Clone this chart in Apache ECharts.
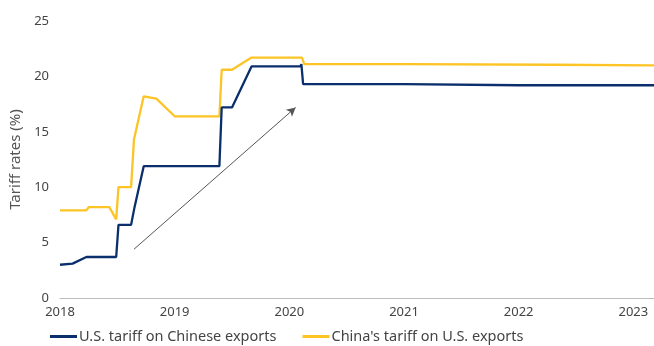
<!DOCTYPE html>
<html>
<head>
<meta charset="utf-8">
<script src="https://cdn.jsdelivr.net/npm/echarts@6/dist/echarts.min.js"></script>
<style>html,body{margin:0;padding:0;background:#fff}#c{width:654px;height:346px}</style>
</head>
<body>
<div id="c"></div>
<script>
var seriesNames = ["U.S. tariff on Chinese exports", "China's tariff on U.S. exports"];
var usX = [2018.0, 2018.11, 2018.23, 2018.49, 2018.51, 2018.62, 2018.65, 2018.73, 2019.39, 2019.41, 2019.50, 2019.67, 2020.095, 2020.105, 2020.12, 2021.0, 2022.0, 2023.18];
var usY = [3.0, 3.1, 3.7, 3.7, 6.6, 6.6, 8.2, 11.9, 11.9, 17.2, 17.2, 20.9, 20.9, 21.1, 19.3, 19.3, 19.2, 19.2];
var cnX = [2018.0, 2018.23, 2018.25, 2018.43, 2018.49, 2018.51, 2018.62, 2018.645, 2018.73, 2018.84, 2019.0, 2019.39, 2019.41, 2019.50, 2019.67, 2020.11, 2020.13, 2021.0, 2022.3, 2023.18];
var cnY = [7.9, 7.9, 8.2, 8.2, 7.1, 10.0, 10.0, 14.3, 18.2, 18.0, 16.4, 16.4, 20.6, 20.6, 21.7, 21.7, 21.1, 21.1, 21.05, 21.0];
var yearTicks = [2018, 2019, 2020, 2021, 2022, 2023];
var arrowStart = [2018.645, 4.4];
var arrowEnd = [2020.055, 17.2];

function pairs(xs, ys) { return xs.map(function (x, i) { return [x, ys[i]]; }); }

var font = "Noto Sans";
var chart = echarts.init(document.getElementById('c'), null, {renderer: 'canvas'});
chart.setOption({
  animation: false,
  textStyle: {fontFamily: font},
  grid: {left: 60, right: 0, top: 21, bottom: 48, containLabel: false},
  legend: {
    left: 50, top: 329, padding: 0,
    icon: 'rect', itemWidth: 27, itemHeight: 3, itemGap: 26,
    textStyle: {fontFamily: font, fontSize: 14.5, color: '#444', padding: [0, 0, 0, -3]},
    data: seriesNames
  },
  xAxis: {
    type: 'value', min: 2018, max: 2023.18, interval: 1,
    axisLine: {show: true, lineStyle: {color: '#bbb', width: 1}},
    axisTick: {show: false},
    splitLine: {show: false},
    axisLabel: {
      color: '#444', fontSize: 13, margin: 8, fontFamily: font, showMaxLabel: false,
      formatter: function (v) { return yearTicks.indexOf(Math.round(v * 1000) / 1000) >= 0 ? String(v) : ''; }
    }
  },
  yAxis: {
    type: 'value', min: 0, max: 25, interval: 5,
    name: 'Tariff rates (%)', nameLocation: 'middle', nameGap: 26, nameRotate: 90,
    nameTextStyle: {color: '#555', fontSize: 15, fontFamily: font},
    axisLine: {show: false}, axisTick: {show: false}, splitLine: {show: false},
    axisLabel: {color: '#444', fontSize: 13, margin: 11, fontFamily: font}
  },
  series: [
    {
      name: seriesNames[0], type: 'line', data: pairs(usX, usY), symbol: 'none',
      lineStyle: {color: '#0b2f6d', width: 2.3}, itemStyle: {color: '#0b2f6d'}, z: 3,
      markLine: {
        silent: true, symbol: ['none', 'arrow'], symbolSize: [7, 9],
        lineStyle: {color: '#555', width: 1, type: 'solid'},
        label: {show: false},
        data: [[{coord: arrowStart}, {coord: arrowEnd}]]
      }
    },
    {
      name: seriesNames[1], type: 'line', data: pairs(cnX, cnY), symbol: 'none',
      lineStyle: {color: '#fdc425', width: 2.3}, itemStyle: {color: '#fdc425'}, z: 2
    }
  ]
});
</script>
</body>
</html>
